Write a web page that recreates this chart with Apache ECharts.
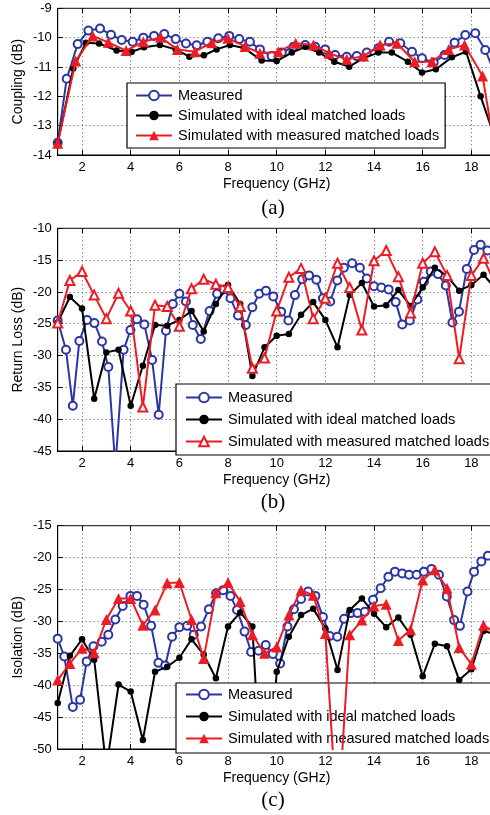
<!DOCTYPE html>
<html>
<head>
<meta charset="utf-8">
<script src="https://cdn.jsdelivr.net/npm/echarts@6/dist/echarts.min.js"></script>
<style>
  html, body { margin: 0; padding: 0; background: #fff; overflow: hidden; }
  #main { width: 520px; height: 815px; }
</style>
</head>
<body>
<div id="main"></div>
<script>
"use strict";

/* ---------- data ---------- */

// shared tick labels
const freqTicks = [2, 4, 6, 8, 10, 12, 14, 16, 18];

// simulated curves in (b) and (c) are sampled every 0.5 GHz
const simFreq = [1, 1.5, 2, 2.5, 3, 3.5, 4, 4.5, 5, 5.5, 6, 6.5, 7, 7.5, 8, 8.5, 9, 9.5, 10,
    10.5, 11, 11.5, 12, 12.5, 13, 13.5, 14, 14.5, 15, 15.5, 16, 16.5, 17, 17.5, 18, 18.5, 19];

// (a) Coupling
const aMeasF = [1.0, 1.37, 1.82, 2.26, 2.74, 3.19, 3.63, 4.08, 4.52, 4.96, 5.38, 5.85, 6.27, 6.71,
    7.15, 7.6, 8.05, 8.46, 8.9, 9.31, 9.79, 10.21, 10.69, 11.17, 11.58, 11.99, 12.4, 12.88, 13.29,
    13.7, 14.18, 14.62, 15.08, 15.56, 15.97, 16.45, 16.9, 17.31, 17.75, 18.16, 18.57, 19.0];
const aMeasV = [-13.58, -11.4, -10.22, -9.76, -9.69, -9.9, -10.08, -10.14, -10.0, -9.94, -9.88,
    -10.05, -10.2, -10.26, -10.14, -10.02, -9.94, -10.05, -10.14, -10.4, -10.63, -10.51, -10.31,
    -10.25, -10.31, -10.4, -10.59, -10.65, -10.63, -10.51, -10.36, -10.14, -10.19, -10.48, -10.7,
    -10.85, -10.59, -10.17, -9.91, -9.85, -10.42, -11.3];
const aIdealF = [1.0, 1.64, 2.16, 2.7, 3.42, 4.04, 4.55, 5.2, 5.85, 6.41, 7.01, 7.53, 8.08, 8.65,
    9.38, 10.0, 10.62, 11.19, 11.74, 12.37, 12.98, 13.57, 14.18, 14.73, 15.39, 15.97, 16.54, 17.2,
    17.78, 18.38, 19.0];
const aIdealV = [-13.6, -11.05, -10.17, -10.2, -10.44, -10.48, -10.33, -10.25, -10.4, -10.65,
    -10.6, -10.4, -10.25, -10.35, -10.78, -10.8, -10.51, -10.31, -10.51, -10.82, -10.99, -10.7,
    -10.51, -10.51, -10.82, -11.19, -11.08, -10.67, -10.48, -12.0, -13.5];
const aLoadF = [1.0, 1.74, 2.44, 3.08, 3.81, 4.52, 5.23, 5.92, 6.64, 7.33, 7.99, 8.7, 9.31, 10.07,
    10.78, 11.51, 12.15, 12.88, 13.57, 14.25, 14.94, 15.67, 16.38, 17.07, 17.72, 18.46, 19.0];
const aLoadV = [-13.6, -10.8, -9.94, -10.16, -10.44, -10.14, -9.99, -10.4, -10.48, -10.17, -10.02,
    -10.3, -10.53, -10.48, -10.19, -10.25, -10.53, -10.74, -10.63, -10.25, -10.19, -10.82, -10.82,
    -10.4, -10.25, -11.31, -14.0];

// (b) Return loss
const bMeasF = [1.0, 1.34, 1.62, 1.89, 2.21, 2.51, 2.82, 3.08, 3.37, 3.71, 3.99, 4.26, 4.56, 4.88,
    5.15, 5.45, 5.73, 6.0, 6.27, 6.55, 6.88, 7.24, 7.55, 7.82, 8.1, 8.41, 8.73, 9.0, 9.28, 9.56,
    9.86, 10.18, 10.48, 10.75, 11.05, 11.33, 11.63, 11.9, 12.2, 12.49, 12.76, 13.1, 13.42, 13.7,
    14.0, 14.3, 14.6, 14.89, 15.16, 15.47, 15.78, 16.05, 16.33, 16.63, 16.95, 17.22, 17.49, 17.81,
    18.11, 18.38, 18.66, 18.95];
const bMeasV = [-24.5, -29.1, -37.9, -27.7, -24.4, -24.9, -27.8, -31.8, -47.5, -29.1, -26.0, -24.3,
    -25.1, -30.7, -39.3, -26.1, -21.9, -20.3, -21.5, -25.2, -27.4, -23.0, -20.3, -19.6, -21.0,
    -23.7, -25.2, -22.4, -20.3, -19.8, -20.7, -23.1, -24.5, -20.5, -18.0, -17.4, -18.1, -21.0,
    -21.5, -18.2, -16.2, -15.5, -16.2, -17.9, -19.1, -19.3, -19.6, -21.6, -25.1, -24.5, -21.2,
    -18.4, -16.8, -17.2, -19.0, -24.8, -23.1, -16.4, -13.4, -12.6, -13.5, -14.5];
const bIdealV = [-24.8, -20.8, -22.6, -36.8, -29.5, -29.1, -37.9, -31.6, -25.2, -25.3, -24.4, -23.0,
    -26.2, -21.9, -18.9, -21.9, -33.2, -28.7, -26.9, -26.6, -23.6, -21.6, -24.4, -28.7, -20.5,
    -18.6, -22.3, -22.1, -19.7, -22.2, -19.3, -16.2, -17.5, -19.8, -18.9, -17.3, -19.5];
const bLoadV = [-24.9, -18.2, -16.8, -20.5, -24.2, -20.2, -23.0, -38.1, -22.1, -22.3, -25.4, -19.5,
    -18.0, -18.8, -19.3, -22.3, -32.0, -30.4, -23.0, -17.7, -16.3, -24.2, -21.0, -15.5, -19.3,
    -26.0, -15.1, -13.5, -17.6, -23.3, -15.5, -13.7, -17.4, -30.5, -17.4, -14.7, -19.0];

// (c) Isolation
const cMeasF = [1.0, 1.27, 1.62, 1.92, 2.19, 2.47, 2.81, 3.08, 3.37, 3.67, 3.99, 4.26, 4.53, 4.84,
    5.14, 5.42, 5.7, 6.0, 6.32, 6.59, 6.89, 7.21, 7.51, 7.8, 8.1, 8.37, 8.68, 8.95, 9.25, 9.55,
    9.84, 10.14, 10.44, 10.71, 11.0, 11.29, 11.59, 11.9, 12.18, 12.49, 12.77, 13.04, 13.32, 13.62,
    13.96, 14.27, 14.59, 14.86, 15.16, 15.44, 15.75, 16.05, 16.36, 16.67, 16.99, 17.29, 17.53,
    17.84, 18.11, 18.41, 18.68, 19.0];
const cMeasV = [-32.7, -35.5, -43.4, -42.3, -36.3, -33.9, -33.2, -32.1, -29.7, -27.6, -26.0, -26.0,
    -27.4, -30.7, -36.5, -36.9, -32.4, -30.9, -30.7, -32.1, -30.8, -28.1, -25.6, -25.1, -26.0,
    -28.2, -31.6, -34.8, -34.6, -33.7, -35.1, -36.6, -30.8, -28.1, -26.5, -25.3, -26.0, -29.3,
    -32.3, -32.4, -29.6, -28.7, -28.7, -28.5, -26.6, -24.8, -23.0, -22.2, -22.5, -22.7, -22.7,
    -22.2, -21.8, -22.7, -26.1, -29.8, -30.7, -25.3, -22.2, -20.6, -19.7, -19.6];
const cIdealV = [-42.8, -35.4, -32.8, -36.0, -53.0, -39.9, -41.0, -48.6, -37.9, -37.1, -35.7, -32.8,
    -35.2, -38.9, -30.8, -28.6, -30.8, -65.0, -37.9, -32.4, -29.0, -28.0, -31.1, -37.6, -28.2,
    -26.4, -28.8, -30.9, -29.4, -32.1, -38.6, -33.5, -33.9, -39.2, -37.5, -31.5, -32.0];
const cLoadV = [-39.2, -36.6, -34.2, -34.9, -29.7, -26.4, -26.4, -30.6, -28.2, -24.0, -23.9, -29.7,
    -35.8, -25.5, -23.9, -26.9, -32.1, -35.0, -34.0, -29.0, -25.1, -25.9, -31.9, -62.0, -32.1,
    -29.8, -27.6, -27.3, -33.0, -31.3, -23.5, -21.9, -24.8, -34.1, -36.7, -30.6, -31.8];

const NAMES = ["Measured", "Simulated with ideal matched loads", "Simulated with measured matched loads"];

/* ---------- colours, fonts ---------- */
const C = { blue: "#2b36a3", black: "#000000", red: "#ec1c24", grid: "#555" };
const FONT = 'Arial, "Liberation Sans", Helvetica, sans-serif';

// plot boxes (px) — x = 1..19 GHz, right edge falls just outside the picture
const PANELS = [
    { top: 8.3,   height: 146.7, min: -14, max: -9,  step: 1, yName: "Coupling (dB)",    cap: "(a)", capY: 208 },
    { top: 228.3, height: 222.7, min: -45, max: -10, step: 5, yName: "Return Loss (dB)", cap: "(b)", capY: 502 },
    { top: 525.7, height: 223.3, min: -50, max: -15, step: 5, yName: "Isolation (dB)",   cap: "(c)", capY: 800 }
];
const LEGENDS = [
    { left: 127, top: 83,  padding: [5, 6, 5, 8], gap: 5 },
    { left: 176, top: 384, padding: [6, 8, 6, 9], gap: 7 },
    { left: 176, top: 683, padding: [4, 8, 7, 9], gap: 7 }
];

const pairs = (f, v) => f.map((x, i) => [x, v[i]]);

function measSeries(p, data) {
    return {
        name: p + NAMES[0], type: "line", xAxisIndex: +p[0], yAxisIndex: +p[0], data,
        symbol: "emptyCircle", symbolSize: 8, z: 2,
        lineStyle: { color: C.blue, width: 2 },
        itemStyle: { color: C.blue, borderWidth: 1.6 }
    };
}
function idealSeries(p, data) {
    return {
        name: p + NAMES[1], type: "line", xAxisIndex: +p[0], yAxisIndex: +p[0], data,
        symbol: "circle", symbolSize: 6.5, z: 3,
        lineStyle: { color: C.black, width: 2 },
        itemStyle: { color: C.black }
    };
}
function loadSeries(p, data, hollow) {
    return {
        name: p + NAMES[2], type: "line", xAxisIndex: +p[0], yAxisIndex: +p[0], data,
        symbol: hollow ? "emptyTriangle" : "triangle", symbolSize: hollow ? 9 : 11, z: 4,
        lineStyle: { color: C.red, width: 2 },
        itemStyle: { color: C.red, borderWidth: 1.3 }
    };
}

const series = [
    measSeries("0:", pairs(aMeasF, aMeasV)),
    idealSeries("0:", pairs(aIdealF, aIdealV)),
    loadSeries("0:", pairs(aLoadF, aLoadV), false),
    measSeries("1:", pairs(bMeasF, bMeasV)),
    idealSeries("1:", pairs(simFreq, bIdealV)),
    loadSeries("1:", pairs(simFreq, bLoadV), true),
    measSeries("2:", pairs(cMeasF, cMeasV)),
    idealSeries("2:", pairs(simFreq, cIdealV)),
    loadSeries("2:", pairs(simFreq, cLoadV), false)
];

const tickStyle = { inside: true, length: 5, lineStyle: { color: "#000", width: 1 } };

const option = {
    backgroundColor: "#fff",
    animation: false,
    textStyle: { fontFamily: FONT },
    grid: PANELS.map(p => ({
        left: 57.7, width: 438, top: p.top, height: p.height,
        show: true, borderColor: "#000", borderWidth: 1, backgroundColor: "#fff"
    })),
    xAxis: PANELS.map((p, i) => ({
        type: "value", gridIndex: i, min: 1, max: 19,
        name: "Frequency (GHz)", nameLocation: "middle", nameGap: 22, nameMoveOverlap: false,
        nameTextStyle: { fontSize: 14, color: "#000", fontFamily: FONT },
        axisLine: { show: true, lineStyle: { color: "#000", width: 1 } },
        axisTick: Object.assign({ customValues: freqTicks }, tickStyle),
        axisLabel: { customValues: freqTicks, fontSize: 13, color: "#000", margin: 6, fontFamily: FONT },
        splitLine: { show: true, lineStyle: { color: C.grid, type: [1, 3], width: 1 } }
    })).concat(PANELS.map((p, i) => ({
        // mirrored ticks on the top border (MATLAB box style)
        type: "value", gridIndex: i, min: 1, max: 19, position: "top",
        axisLine: { show: false },
        axisTick: Object.assign({ customValues: freqTicks }, tickStyle),
        axisLabel: { show: false },
        splitLine: { show: false }
    }))),
    yAxis: PANELS.map((p, i) => ({
        type: "value", gridIndex: i, min: p.min, max: p.max, interval: p.step,
        name: p.yName, nameLocation: "middle", nameGap: 33, nameMoveOverlap: false,
        nameTextStyle: { fontSize: 14, color: "#000", fontFamily: FONT },
        axisLine: { show: true, lineStyle: { color: "#000", width: 1 } },
        axisTick: tickStyle,
        axisLabel: { fontSize: 13, color: "#000", margin: 6, fontFamily: FONT },
        splitLine: { show: true, lineStyle: { color: C.grid, type: [1, 3], width: 1 } }
    })),
    legend: LEGENDS.map((l, i) => ({
        orient: "vertical", left: l.left, top: l.top, padding: l.padding, itemGap: l.gap,
        itemWidth: 36, itemHeight: 12,
        backgroundColor: "#fff", borderColor: "#000", borderWidth: 1.2, borderRadius: 0,
        selectedMode: false,
        data: NAMES.map(n => i + ":" + n),
        formatter: n => n.slice(2),
        textStyle: { fontSize: 14.5, color: "#000", fontFamily: FONT, padding: [0, 0, 0, 1] }
    })),
    graphic: PANELS.map(p => ({
        type: "text", x: 273, y: p.capY,
        style: {
            text: p.cap, fill: "#000", align: "center", verticalAlign: "middle",
            font: '21px "Liberation Serif", "DejaVu Serif", serif'
        }
    })),
    series
};

const chart = echarts.init(document.getElementById("main"));
chart.setOption(option);
</script>
</body>
</html>
